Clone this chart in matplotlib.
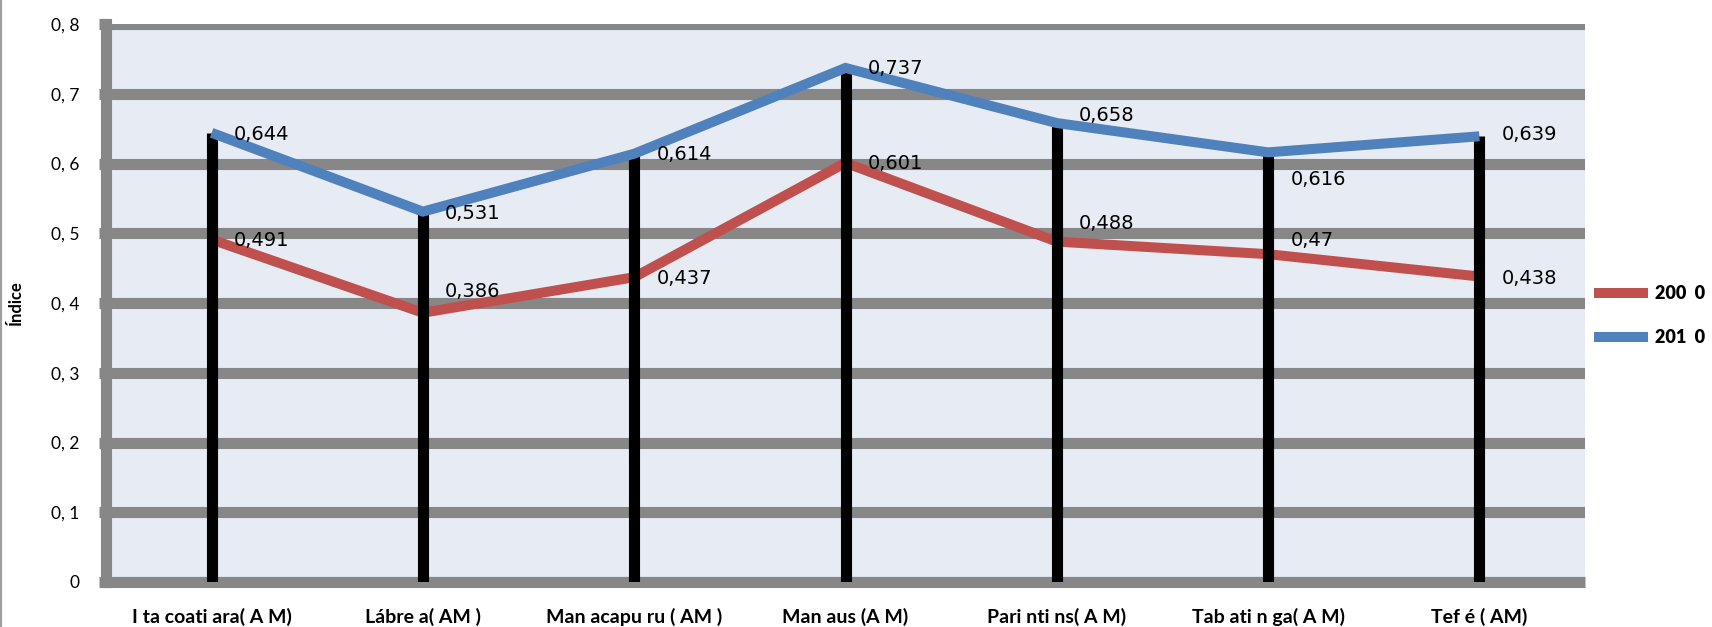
import matplotlib
matplotlib.use("Agg")
import matplotlib.pyplot as plt
from matplotlib.lines import Line2D

# data
cidades = ["I ta coati ara( A M)", "Lábre a( AM )", "Man acapu ru ( AM )", "Man aus (A M)",
           "Pari nti ns( A M)", "Tab ati n ga( A M)", "Tef é ( AM)"]
idh_2000 = [0.491, 0.386, 0.437, 0.601, 0.488, 0.47, 0.438]
idh_2010 = [0.644, 0.531, 0.614, 0.737, 0.658, 0.616, 0.639]
yticks = [0, 0.1, 0.2, 0.3, 0.4, 0.5, 0.6, 0.7, 0.8]
ytick_labels = ["0", "0, 1", "0, 2", "0, 3", "0, 4", "0, 5", "0, 6", "0, 7", "0, 8"]
series_names = ["200  0", "201  0"]

# label nudges (pixels, + is up)
dy_2000 = [1, 23, 1, 1, 20, 16, 0]
dy_2010 = [0, 0, 1, 1, 10, -25, 4]

RED = "#C0504D"
BLUE = "#4F81BD"
GRID = "#878787"
BG = "#E7ECF4"

fig = plt.figure(figsize=(17.12, 6.27), dpi=100)
ax = fig.add_axes([106 / 1712, 45 / 627, 1479 / 1712, 558 / 627])
ax.set_facecolor(BG)

x = list(range(len(cidades)))

ax.plot(x, idh_2000, color=RED, lw=7.2, zorder=3, solid_capstyle="butt", solid_joinstyle="miter")
ax.vlines(x, 0, idh_2010, color="black", lw=8, zorder=4)
ax.plot(x, idh_2010, color=BLUE, lw=7.2, zorder=5, solid_capstyle="butt", solid_joinstyle="miter")

for xi, v, d in zip(x, idh_2000, dy_2000):
    ax.annotate(f"{v:g}".replace(".", ","), (xi, v), xytext=(16, d * 0.72),
                textcoords="offset points", ha="left", va="center_baseline",
                fontsize=14, family="DejaVu Sans", zorder=6)
for xi, v, d in zip(x, idh_2010, dy_2010):
    ax.annotate(f"{v:g}".replace(".", ","), (xi, v), xytext=(16, d * 0.72),
                textcoords="offset points", ha="left", va="center_baseline",
                fontsize=14, family="DejaVu Sans", zorder=6)

ax.set_xlim(-0.5, len(cidades) - 0.5)
ax.set_ylim(0, 0.8)
ax.set_yticks(yticks)
ax.set_yticklabels(ytick_labels, family="Lato", fontsize=12.5)
ax.set_xticks(x)
ax.set_xticklabels(cidades, family="Lato", fontweight="bold", fontsize=14)
ax.tick_params(axis="y", length=5, width=8, color=GRID, direction="out", pad=14)
ax.tick_params(axis="x", length=0, pad=19)
ax.yaxis.grid(True, color=GRID, lw=8, zorder=1)
ax.set_axisbelow(True)

for s in ["top", "right"]:
    ax.spines[s].set_visible(False)
ax.spines["left"].set_color(GRID)
ax.spines["left"].set_linewidth(8)
ax.spines["bottom"].set_color(GRID)
ax.spines["bottom"].set_linewidth(8)
ax.spines["bottom"].set_capstyle("butt")

ax.set_ylabel("Índice", family="Lato", fontweight="bold", fontsize=12)
ax.yaxis.set_label_coords(-0.0554, 0.5)

handles = [Line2D([], [], color=RED, lw=7.2, solid_capstyle="butt"),
           Line2D([], [], color=BLUE, lw=7.2, solid_capstyle="butt")]
leg = fig.legend(handles, series_names, loc="center left", bbox_to_anchor=(1594 / 1712, 0.497),
                 frameon=False, handlelength=3.0, handletextpad=0.4, labelspacing=1.5,
                 borderpad=0, borderaxespad=0,
                 prop={"family": "Lato", "weight": "heavy", "size": 13})

# left border line of the chart area
fig.add_artist(Line2D([1 / 1712, 1 / 1712], [0, 1], color="#A0A0A0", lw=1.5))

fig.savefig("out.png", dpi=100, facecolor="white")
